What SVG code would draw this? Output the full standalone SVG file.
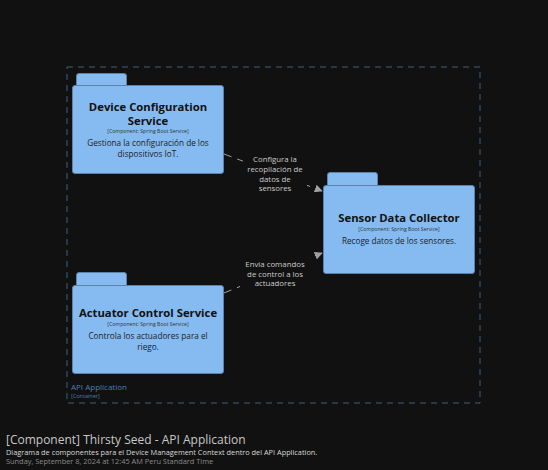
<svg xmlns="http://www.w3.org/2000/svg" width="548" height="470" viewBox="0 0 548 470">
<defs>
<style>
text{font-family:"Open Sans","Noto Sans","Liberation Sans",sans-serif;text-anchor:middle}
.body{fill:#85bbf0;stroke:#5d82a8;stroke-width:1}
.ttl{font-size:11.3px;font-weight:bold;fill:#111}
.tech{font-size:5.2px;fill:#333}
.desc{font-size:8.2px;fill:#222}
.lbl{font-size:7.8px;fill:#cccccc}
.edge{stroke:#a0a0a0;stroke-width:1;fill:none;stroke-dasharray:8 6}
.lbg{fill:#111111}
</style>
<marker id="arr" viewBox="0 0 10 10" refX="9" refY="5" markerWidth="8" markerHeight="8" orient="auto" markerUnits="userSpaceOnUse">
<path d="M0,0 L10,5 L0,10 z" fill="#a0a0a0"/>
</marker>
</defs>
<rect width="548" height="470" fill="#111111"/>
<g id="boundary">
<rect x="67" y="67" width="413" height="336" fill="none" stroke="#3d6080" stroke-width="1" stroke-dasharray="6 5"/>
<text x="71" y="390" style="text-anchor:start;font-size:8px;fill:#4d7fae">API Application</text>
<text x="71" y="398" style="text-anchor:start;font-size:5.5px;fill:#4d7fae">[Container]</text>
</g>
<g id="connectors">
<line class="edge" x1="224" y1="154" x2="322" y2="191" marker-end="url(#arr)"/>
<rect class="lbg" x="243" y="152" width="64" height="40"/>
<text class="lbl" x="275" y="162">Configura la</text>
<text class="lbl" x="275" y="172">recopilación de</text>
<text class="lbl" x="275" y="182">datos de</text>
<text class="lbl" x="275" y="191">sensores</text>
<line class="edge" x1="224" y1="293" x2="322" y2="253" marker-end="url(#arr)"/>
<rect class="lbg" x="240" y="258" width="70" height="30"/>
<text class="lbl" x="275" y="267">Envía comandos</text>
<text class="lbl" x="275" y="277">de control a los</text>
<text class="lbl" x="275" y="286">actuadores</text>
</g>
<g id="device-configuration-service">
<rect class="body" x="76.5" y="73.5" width="50" height="16" rx="2.5"/>
<rect class="body" x="72.5" y="85.5" width="151" height="88" rx="2.5"/>
<text class="ttl" x="148" y="111">Device Configuration</text>
<text class="ttl" x="148" y="125">Service</text>
<text class="tech" x="148" y="133">[Component: Spring Boot Service]</text>
<text class="desc" x="148" y="146">Gestiona la configuración de los</text>
<text class="desc" x="148" y="157">dispositivos IoT.</text>
</g>
<g id="sensor-data-collector">
<rect class="body" x="327.5" y="172.5" width="50" height="17" rx="2.5"/>
<rect class="body" x="323.5" y="185.5" width="151" height="88" rx="2.5"/>
<text class="ttl" x="399" y="222">Sensor Data Collector</text>
<text class="tech" x="399" y="231">[Component: Spring Boot Service]</text>
<text class="desc" x="399" y="244">Recoge datos de los sensores.</text>
</g>
<g id="actuator-control-service">
<rect class="body" x="76.5" y="272.5" width="50" height="17" rx="2.5"/>
<rect class="body" x="72.5" y="285.5" width="151" height="88" rx="2.5"/>
<text class="ttl" x="148" y="317">Actuator Control Service</text>
<text class="tech" x="148" y="326">[Component: Spring Boot Service]</text>
<text class="desc" x="148" y="339">Controla los actuadores para el</text>
<text class="desc" x="148" y="350">riego.</text>
</g>
<g id="title">
<text x="6" y="444" style="text-anchor:start;font-size:12px;fill:#c8c8c8">[Component] Thirsty Seed - API Application</text>
<text x="6" y="455" style="text-anchor:start;font-size:7.35px;fill:#d8d8d8">Diagrama de componentes para el Device Management Context dentro del API Application.</text>
<text x="6" y="464" style="text-anchor:start;font-size:7.4px;fill:#8a8a8a">Sunday, September 8, 2024 at 12:45 AM Peru Standard Time</text>
</g>
</svg>
